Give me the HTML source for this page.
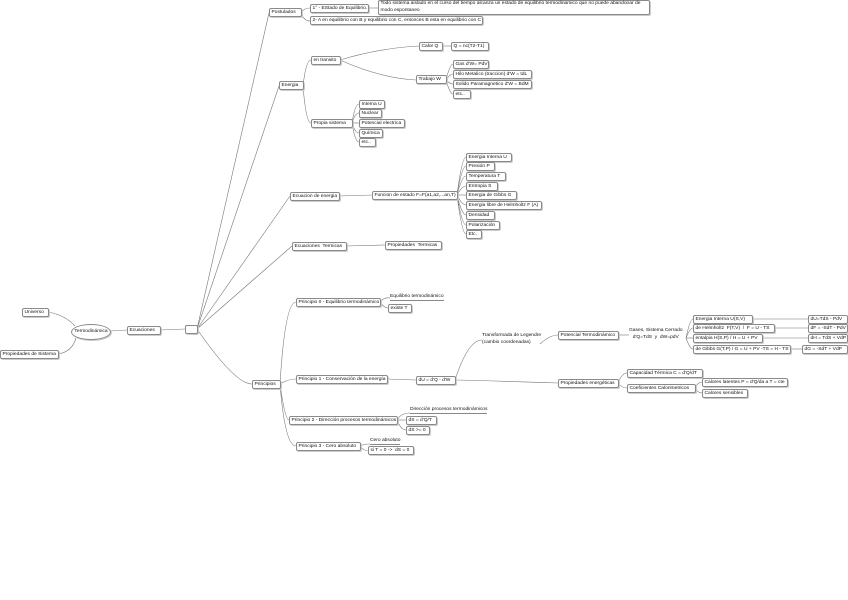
<!DOCTYPE html>
<html><head><meta charset="utf-8"><style>
body{margin:0;width:848px;height:600px;background:#fff;position:relative;overflow:hidden;font-family:"Liberation Sans",sans-serif;}
.b{position:absolute;border:1px solid #8a8a8a;border-radius:2px;background:#fff;font-size:4.9px;line-height:8px;padding:0 1.5px;white-space:nowrap;box-sizing:border-box;height:9px;color:#111;box-shadow:1px 1px 0 #ccc}
.t{position:absolute;font-size:4.9px;line-height:7px;white-space:nowrap;color:#111}
.u{border-bottom:1px solid #888}
svg{position:absolute;left:0;top:0}
</style></head><body>
<svg width="848" height="600" fill="none" stroke="#777" stroke-width="0.6">
<path d="M197 329 L269 13"/><path d="M197 329 L279 86"/><path d="M197 329 L290 196"/><path d="M197 329 L292 246"/><path d="M197 329 Q235 384 252 384"/>
<path d="M160 330 L185 329"/><path d="M110 331 L127 330"/>
<path d="M48 312 Q65 315 75 326"/><path d="M58 354 Q72 352 76 338"/>
<path d="M301 13 Q304 8 310 8"/><path d="M301 13 Q304 21 310 21"/><path d="M368 8 L378 8"/>
<path d="M303 86 Q306 60 311 60"/><path d="M303 86 Q306 123 311 123"/>
<path d="M340 60 Q380 48 419 46"/><path d="M340 60 Q380 78 416 80"/><path d="M442 46 L451 46"/>
<path d="M446 80 Q450 64 453 64"/><path d="M446 80 Q450 74 453 74"/><path d="M446 80 Q450 84 453 84"/><path d="M446 80 Q450 94 453 94"/>
<path d="M352 123 Q355 104 359 104"/><path d="M352 123 Q355 113 359 113"/><path d="M352 123 L359 123"/><path d="M352 123 Q355 133 359 133"/><path d="M352 123 Q355 142 359 142"/>
<path d="M339 196 L372 195"/><path d="M346 246 L385 245"/>
<path d="M457 195 Q462 157 466 157"/><path d="M457 195 Q462 166 466 166"/><path d="M457 195 Q462 176 466 176"/><path d="M457 195 Q462 186 466 186"/><path d="M457 195 L466 195"/><path d="M457 195 Q462 205 466 205"/><path d="M457 195 Q462 215 466 215"/><path d="M457 195 Q462 225 466 225"/><path d="M457 195 Q462 234 466 234"/>
<path d="M280 384 Q285 302 296 302"/><path d="M280 384 Q288 379 296 379"/><path d="M280 384 Q285 420 289 420"/><path d="M280 384 Q285 446 296 446"/>
<path d="M380 302 Q384 297 390 298"/><path d="M380 302 Q384 308 388 308"/>
<path d="M387 379 L416 380"/>
<path d="M455 380 Q468 340 482 340"/><path d="M455 380 Q500 381 558 383"/>
<path d="M540 344 Q550 335 558 335"/><path d="M618 335 L629 335"/>
<path d="M686 338 Q690 319 693 319"/><path d="M686 338 Q690 328 693 328"/><path d="M686 338 L693 338"/><path d="M686 338 Q690 349 693 349"/>
<path d="M752 319 L808 319"/><path d="M774 328 L808 328"/><path d="M762 338 L808 338"/><path d="M790 349 L802 349"/>
<path d="M618 383 Q622 373 627 373"/><path d="M618 383 Q622 388 627 388"/>
<path d="M695 388 Q698 382 702 382"/><path d="M695 388 Q698 393 702 393"/>
<path d="M397 420 Q401 413 410 413"/><path d="M397 420 L406 420"/><path d="M397 420 Q401 430 406 430"/>
<path d="M360 446 Q364 444 370 444"/><path d="M360 446 Q364 451 368 451"/>
</svg>
<div class="b" style="left:269px;top:8px;width:33px">Postulados</div>
<div class="b" style="left:310px;top:4px;width:59px">1° - EStado de Equilibrio.</div>
<div class="b" style="left:378px;top:0px;width:272px;height:15px;line-height:6.5px">Todo sistema aislado en el curso del tiempo alcanza un estado de equilibrio termodinamico que no puede abandonar de<br>modo espontaneo</div>
<div class="b" style="left:310px;top:16px;width:173px">2- A en equilibrio con B y equilibrio con C, entonces B esta en equilibrio con C</div>
<div class="b" style="left:279px;top:81px;width:25px">Energia</div>
<div class="b" style="left:311px;top:56px;width:30px">en transito</div>
<div class="b" style="left:419px;top:42px;width:24px">Calor Q</div>
<div class="b" style="left:451px;top:42px;width:38px">Q = nc(T2-T1)</div>
<div class="b" style="left:416px;top:75px;width:31px">Trabajo W</div>
<div class="b" style="left:453px;top:60px;width:36px">Gas d'W= PdV</div>
<div class="b" style="left:453px;top:70px;width:79px">Hilo Metalico (traccion) d'W = tdL</div>
<div class="b" style="left:453px;top:80px;width:79px">Solido Paramagnetico d'W = BdM</div>
<div class="b" style="left:453px;top:90px;width:18px">etc..</div>
<div class="b" style="left:311px;top:119px;width:42px">Propia sistema</div>
<div class="b" style="left:359px;top:100px;width:26px">Interna U</div>
<div class="b" style="left:359px;top:109px;width:23px">Nuclear</div>
<div class="b" style="left:359px;top:119px;width:46px">Potencial electrica</div>
<div class="b" style="left:359px;top:129px;width:24px">Química</div>
<div class="b" style="left:359px;top:138px;width:17px">etc..</div>
<div class="b" style="left:290px;top:192px;width:50px">Ecuacion de energia</div>
<div class="b" style="left:372px;top:191px;width:86px">Funcion de estado F=F(a1,a2,...an,T)</div>
<div class="b" style="left:466px;top:153px;width:46px">Energia Interna U</div>
<div class="b" style="left:466px;top:162px;width:29px">Presión P</div>
<div class="b" style="left:466px;top:172px;width:40px">Temperatura T</div>
<div class="b" style="left:466px;top:182px;width:32px">Entropia S</div>
<div class="b" style="left:466px;top:191px;width:51px">Energia de Gibbs G</div>
<div class="b" style="left:466px;top:201px;width:76px">Energia libre de Helmholtz F (A)</div>
<div class="b" style="left:466px;top:211px;width:29px">Densidad</div>
<div class="b" style="left:466px;top:221px;width:34px">Polarización</div>
<div class="b" style="left:466px;top:230px;width:16px">Etc.</div>
<div class="b" style="left:292px;top:242px;width:55px">Ecuaciones &nbsp;Termicas</div>
<div class="b" style="left:385px;top:241px;width:57px">Propiedades &nbsp;Termicas</div>
<div class="b" style="left:22px;top:308px;width:27px">Universo</div>
<div class="b" style="left:71px;top:324px;width:40px;height:16px;border-radius:50%;line-height:14px;text-align:center;padding:0">Termodinámica</div>
<div class="b" style="left:0px;top:350px;width:59px">Propiedades de Sistema</div>
<div class="b" style="left:127px;top:326px;width:34px">Ecuaciones</div>
<div class="b" style="left:185px;top:325px;width:13px"></div>
<div class="b" style="left:252px;top:380px;width:29px">Principios</div>
<div class="b" style="left:296px;top:298px;width:85px">Principio 0 - Equilibrio termodinámico</div>
<div class="t u" style="left:390px;top:293px">Equilibrio termodinámico</div>
<div class="b" style="left:388px;top:304px;width:24px">existe T</div>
<div class="b" style="left:296px;top:375px;width:92px">Principio 1 - Conservación de la energía</div>
<div class="b" style="left:416px;top:376px;width:40px">dU = d'Q - d'W</div>
<div class="t" style="left:482px;top:332px">Transformada de Legendre<br>(cambio coordenadas)</div>
<div class="b" style="left:558px;top:331px;width:61px">Potencial Termodinámico</div>
<div class="t" style="left:629px;top:327px;text-align:center">Gases, Sistema Cerrado<br>d'Q=TdS &nbsp;y &nbsp;dW=pdV</div>
<div class="b" style="left:693px;top:315px;width:60px">Energia Interna U(S,V)</div>
<div class="b" style="left:693px;top:324px;width:82px">de Helmholtz &nbsp;F(T,V) &nbsp;/ &nbsp;F = U - TS</div>
<div class="b" style="left:693px;top:334px;width:70px">entalpia H(S,P) / H = U + PV</div>
<div class="b" style="left:693px;top:345px;width:98px">de Gibbs G(T,P) / G = U + PV -TS = H - TS</div>
<div class="b" style="left:808px;top:315px;width:40px">dU=TdS - PdV</div>
<div class="b" style="left:808px;top:324px;width:40px">dF = -SdT - PdV</div>
<div class="b" style="left:808px;top:334px;width:40px">dH = TdS + VdP</div>
<div class="b" style="left:802px;top:345px;width:46px">dG = -SdT + VdP</div>
<div class="b" style="left:558px;top:379px;width:61px">Propiedades energéticas</div>
<div class="b" style="left:627px;top:369px;width:76px">Capacidad Térmica C = d'Q/dT</div>
<div class="b" style="left:627px;top:384px;width:69px">Coeficientes Calorimetricos</div>
<div class="b" style="left:702px;top:378px;width:86px">Calores latentes P = d'Q/da a T = cte</div>
<div class="b" style="left:702px;top:389px;width:46px">Calores sensibles</div>
<div class="b" style="left:289px;top:416px;width:109px">Principio 2 - Dirección procesos termodinámicos</div>
<div class="t u" style="left:410px;top:406px">Dirección procesos termodinámicos</div>
<div class="b" style="left:406px;top:416px;width:31px">dS = d'Q/T</div>
<div class="b" style="left:406px;top:426px;width:24px">dS &gt;= 0</div>
<div class="b" style="left:296px;top:442px;width:65px">Principio 3 - Cero absoluto</div>
<div class="t u" style="left:370px;top:437px">Cero absoluto</div>
<div class="b" style="left:368px;top:446px;width:46px">si T = 0 -&gt; &nbsp;dS = 0</div>
</body></html>
